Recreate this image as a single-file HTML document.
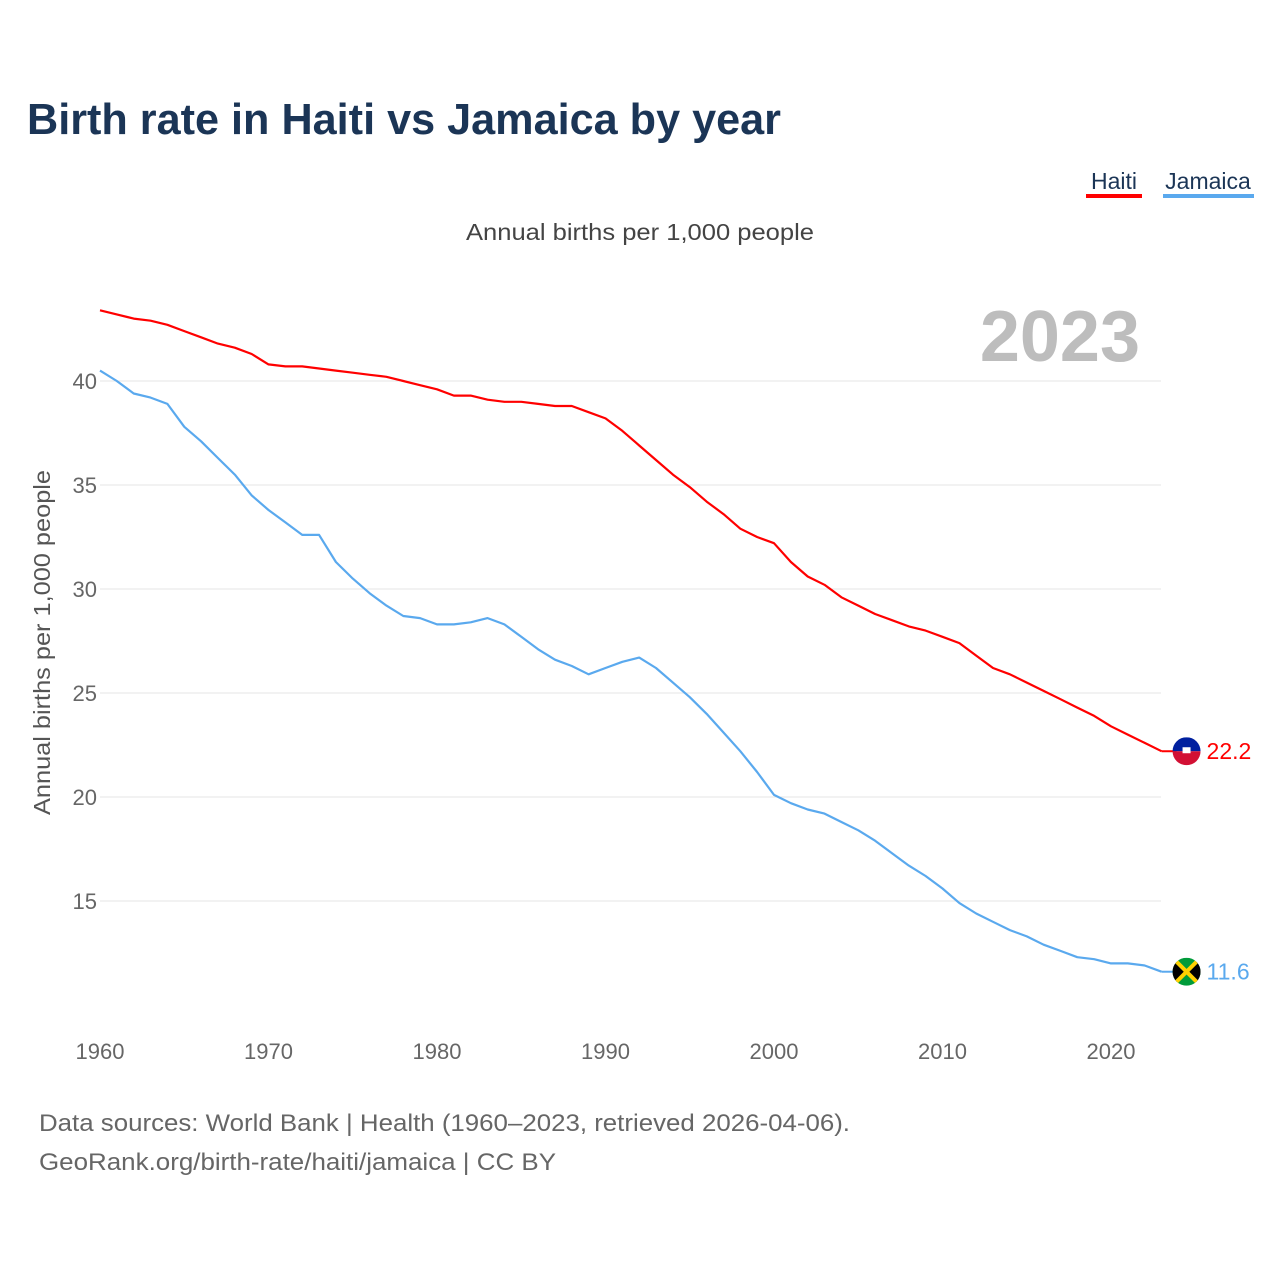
<!DOCTYPE html>
<html><head><meta charset="utf-8">
<style>
html,body{margin:0;padding:0;background:#fff;}
body{width:1280px;height:1280px;position:relative;font-family:"Liberation Sans",sans-serif;overflow:hidden;}
</style></head>
<body>
<svg id="chart" width="1280" height="1280" xmlns="http://www.w3.org/2000/svg" font-family="Liberation Sans, sans-serif">
  <text x="27" y="134" font-size="44" font-weight="bold" fill="#1b3556" textLength="754" lengthAdjust="spacingAndGlyphs">Birth rate in Haiti vs Jamaica by year</text>
  <g>
    <text x="1114" y="189" font-size="23" fill="#1b3556" text-anchor="middle">Haiti</text>
    <rect x="1086" y="194" width="56" height="4" fill="#ff0000"/>
    <text x="1208" y="189" font-size="23" fill="#1b3556" text-anchor="middle">Jamaica</text>
    <rect x="1163" y="194" width="91" height="4" fill="#5aa9ee"/>
  </g>
  <text x="466" y="240" font-size="23" fill="#444" textLength="348" lengthAdjust="spacingAndGlyphs">Annual births per 1,000 people</text>
  <text x="1140" y="361" font-size="72" font-weight="bold" fill="#bdbdbd" text-anchor="end">2023</text>
  <text transform="translate(50,815) rotate(-90)" font-size="23" fill="#555" textLength="345" lengthAdjust="spacingAndGlyphs">Annual births per 1,000 people</text>
  <g id="grid"></g>
  <g id="xticks"></g>
  <g id="lines"></g>
  <g id="endlabels"></g>
  <text x="39" y="1131" font-size="24" fill="#666" textLength="811" lengthAdjust="spacingAndGlyphs">Data sources: World Bank | Health (1960–2023, retrieved 2026-04-06).</text>
  <text x="39" y="1170" font-size="24" fill="#666" textLength="517" lengthAdjust="spacingAndGlyphs">GeoRank.org/birth-rate/haiti/jamaica | CC BY</text>
</svg>
<script>
const years = [];
for (let y = 1960; y <= 2023; y++) years.push(y);
const haiti = [43.4,43.2,43.0,42.9,42.7,42.4,42.1,41.8,41.6,41.3,40.8,40.7,40.7,40.6,40.5,40.4,40.3,40.2,40.0,39.8,39.6,39.3,39.3,39.1,39.0,39.0,38.9,38.8,38.8,38.5,38.2,37.6,36.9,36.2,35.5,34.9,34.2,33.6,32.9,32.5,32.2,31.3,30.6,30.2,29.6,29.2,28.8,28.5,28.2,28.0,27.7,27.4,26.8,26.2,25.9,25.5,25.1,24.7,24.3,23.9,23.4,23.0,22.6,22.2];
const jamaica = [40.5,40.0,39.4,39.2,38.9,37.8,37.1,36.3,35.5,34.5,33.8,33.2,32.6,32.6,31.3,30.5,29.8,29.2,28.7,28.6,28.3,28.3,28.4,28.6,28.3,27.7,27.1,26.6,26.3,25.9,26.2,26.5,26.7,26.2,25.5,24.8,24.0,23.1,22.2,21.2,20.1,19.7,19.4,19.2,18.8,18.4,17.9,17.3,16.7,16.2,15.6,14.9,14.4,14.0,13.6,13.3,12.9,12.6,12.3,12.2,12.0,12.0,11.9,11.6];
const yTicks = [15,20,25,30,35,40];
const xTicks = [1960,1970,1980,1990,2000,2010,2020];

const NS = "http://www.w3.org/2000/svg";
const xS = v => 100 + (v - 1960) * (1111 - 100) / 60;
const yS = v => 381 + (40 - v) * 20.8;
function mk(tag, attrs, parent) {
  const e = document.createElementNS(NS, tag);
  for (const k in attrs) e.setAttribute(k, attrs[k]);
  parent.appendChild(e);
  return e;
}
const grid = document.getElementById('grid');
yTicks.forEach(t => {
  const l = mk('line', {x1: 100, x2: 1161, y1: yS(t), y2: yS(t), stroke: '#e6e6e6', 'stroke-width': 1}, grid);
  
  
  const tx = mk('text', {x: 97, y: yS(t) + 8, 'font-size': 22, fill: '#666', 'text-anchor': 'end'}, grid);
  tx.textContent = t;
  
  
});
const xg = document.getElementById('xticks');
xTicks.forEach(t => {
  const tx = mk('text', {x: xS(t), y: 1059, 'font-size': 22, fill: '#666', 'text-anchor': 'middle'}, xg);
  tx.textContent = t;
  
  
});
const lg = document.getElementById('lines');
function line(vals, color, name) {
  const d = vals.map((v, i) => (i ? 'L' : 'M') + xS(years[i]).toFixed(1) + ',' + yS(v).toFixed(1)).join('');
  const p = mk('path', {d: d, fill: 'none', stroke: color, 'stroke-width': 2.2, 'stroke-linejoin': 'round'}, lg);
  
  
}
line(haiti, '#ff0000', 'haiti-line');
line(jamaica, '#5aa9ee', 'jamaica-line');

const el = document.getElementById('endlabels');
function endLabel(vals, color, name, flag) {
  const v = vals[vals.length - 1];
  const x = xS(2023), y = yS(v);
  mk('line', {x1: x, x2: x + 15, y1: y, y2: y, stroke: color, 'stroke-width': 2}, el);
  const g = mk('g', {}, el);
  
  
  const cx = x + 25, r = 14;
  const cp = 'clip-' + name;
  const c = mk('clipPath', {id: cp}, g);
  mk('circle', {cx: cx, cy: y, r: r}, c);
  if (flag === 'haiti') {
    mk('rect', {x: cx - r, y: y - r, width: 2 * r, height: r, fill: '#00209f', 'clip-path': 'url(#' + cp + ')'}, g);
    mk('rect', {x: cx - r, y: y, width: 2 * r, height: r, fill: '#d21034', 'clip-path': 'url(#' + cp + ')'}, g);
    mk('rect', {x: cx - 4, y: y - 4, width: 8, height: 6, fill: '#fff'}, g);
  } else {
    mk('rect', {x: cx - r, y: y - r, width: 2 * r, height: 2 * r, fill: '#009b3a', 'clip-path': 'url(#' + cp + ')'}, g);
    mk('polygon', {points: `${cx-r},${y-r} ${cx},${y} ${cx-r},${y+r}`, fill: '#000', 'clip-path': 'url(#' + cp + ')'}, g);
    mk('polygon', {points: `${cx+r},${y-r} ${cx},${y} ${cx+r},${y+r}`, fill: '#000', 'clip-path': 'url(#' + cp + ')'}, g);
    mk('line', {x1: cx - r, y1: y - r, x2: cx + r, y2: y + r, stroke: '#fed100', 'stroke-width': 4, 'clip-path': 'url(#' + cp + ')'}, g);
    mk('line', {x1: cx - r, y1: y + r, x2: cx + r, y2: y - r, stroke: '#fed100', 'stroke-width': 4, 'clip-path': 'url(#' + cp + ')'}, g);
  }
  const t = mk('text', {x: cx + 20, y: y + 8, 'font-size': 23, fill: color}, el);
  t.textContent = v.toFixed(1);
  
  
}
endLabel(haiti, '#ff0000', 'haiti', 'haiti');
endLabel(jamaica, '#5aa9ee', 'jamaica', 'jamaica');
</script>
</body></html>
